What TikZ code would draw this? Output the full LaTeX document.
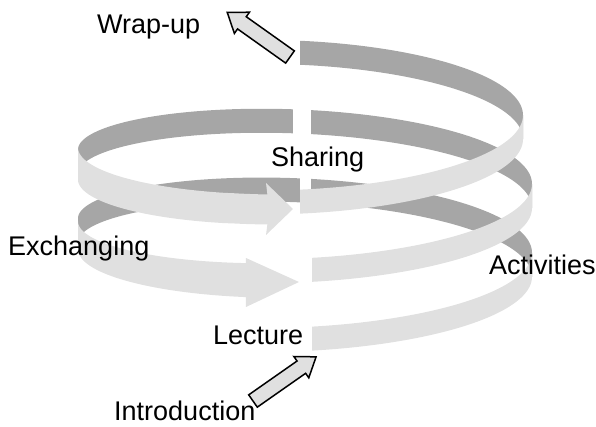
\documentclass[tikz,border=0pt]{standalone}
\usepackage{fontspec}
\setmainfont{Liberation Sans}
\definecolor{rdark}{RGB}{166,166,166}
\definecolor{rlight}{RGB}{224,224,224}
\newcommand{\rib}[3]{\fill[#1] plot[samples=60,domain=#2:#3,variable=\u] ({HX(\u)},{HY(\u)-12}) -- plot[samples=60,domain=#3:#2,variable=\u] ({HX(\u)},{HY(\u)+12}) -- cycle;}
\begin{document}
\begin{tikzpicture}[x=1pt,y=-1pt,
  declare function={
    HX(\t)=305+(\t>700 ? 218 : 227)*sin(\t);
    HY(\t)=282-0.1911*\t+57*cos(\t);
    TA(\t)=HY(\t)-12+3+(\t-270)/75;
    BA(\t)=HY(\t)+12+7+7*(\t-270)/75;
    TB(\t)=HY(\t)-12-2+6*(\t-630)/80;
    BB(\t)=HY(\t)+12+6+4*(\t-630)/80;
  },
  lbl/.style={font=\fontsize{27}{32}\selectfont, inner sep=0, anchor=base west},
  blockarrow/.style={draw=black, line width=1.5pt, fill=rlight, line join=miter},
]
\useasboundingbox (0,0) rectangle (596,427);
% back (inner face) parts
\rib{rdark}{90}{178.48}
\rib{rdark}{181.27}{270}
\rib{rdark}{450}{538.48}
\rib{rdark}{543.04}{630}
\rib{rdark}{810}{901.27}
% front (outer face) parts
\rib{rlight}{1.77}{90}
\rib{rlight}{361.77}{450}
\rib{rlight}{718.73}{810}
\fill[rlight] plot[samples=60,domain=270:344.87,variable=\u] ({HX(\u)},{TA(\u)})
  -- (246,258) -- (299,282) -- (246,307)
  -- plot[samples=60,domain=344.87:270,variable=\u] ({HX(\u)},{BA(\u)}) -- cycle;
\fill[rlight] plot[samples=60,domain=630:710.06,variable=\u] ({HX(\u)},{TB(\u)})
  -- (266,183) -- (293,209) -- (266,235)
  -- plot[samples=60,domain=710.06:630,variable=\u] ({HX(\u)},{BB(\u)}) -- cycle;
% block arrows
\begin{scope}[shift={(253,401)},rotate=35]
  \draw[blockarrow] (0,-7.5) -- (59,-7.5) -- (59,-13) -- (77,0) -- (59,13) -- (59,7.5) -- (0,7.5) -- cycle;
\end{scope}
\begin{scope}[shift={(290,57)},rotate=144.6]
  \draw[blockarrow] (0,-7.5) -- (59,-7.5) -- (59,-13) -- (77,0) -- (59,13) -- (59,7.5) -- (0,7.5) -- cycle;
\end{scope}
% labels
\node[lbl] (wrapup) at (97,34) {Wrap-up};
\node[lbl] (sharing) at (271,167) {Sharing};
\node[lbl] (exch) at (8,255) {Exchanging};
\node[lbl] (activ) at (489,275) {Activities};
\node[lbl] (lecture) at (213,344) {Lecture};
\node[lbl] (intro) at (114,420) {Introduction};
\end{tikzpicture}
\end{document}
